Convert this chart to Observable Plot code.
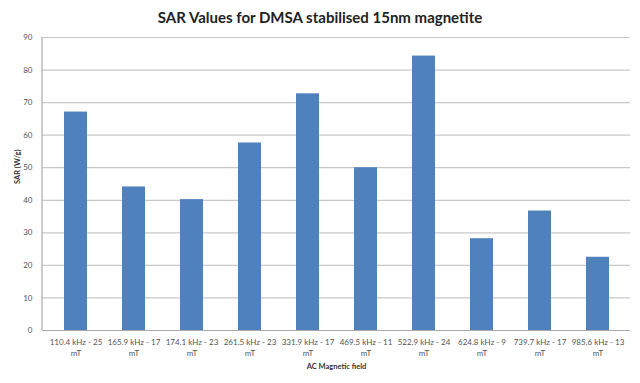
<!DOCTYPE html>
<html><head><meta charset="utf-8">
<script src="https://cdn.jsdelivr.net/npm/d3@7"></script>
<script src="https://cdn.jsdelivr.net/npm/@observablehq/plot@0.6"></script>
<style>
body{margin:0;background:#fff;font-family:Lato,"Open Sans",sans-serif;}
#title{height:30px;line-height:34px;text-align:center;font-weight:bold;font-size:15px;color:#222;}
</style></head>
<body>
<div id="title">SAR Values for DMSA stabilised 15nm magnetite</div>
<div id="chart"></div>
<script>
const categories = ["110.4 kHz - 25 mT","165.9 kHz - 17 mT","174.1 kHz - 23 mT","261.5 kHz - 23 mT","331.9 kHz - 17 mT","469.5 kHz - 11 mT","522.9 kHz - 24 mT","624.8 kHz - 9 mT","739.7 kHz - 17 mT","985.6 kHz - 13 mT"];
const sar = [67.1, 44.1, 40.2, 57.6, 72.7, 50.0, 84.3, 28.2, 36.7, 22.5];
const yTicks = [0,10,20,30,40,50,60,70,80,90];
const data = categories.map((c,i)=>({c, v: sar[i]}));
const chart = Plot.plot({
  width: 640, height: 353,
  marginTop: 7, marginBottom: 53, marginLeft: 42, marginRight: 10,
  style: {fontFamily: "Lato, 'Open Sans', sans-serif", fontSize: "8px", color: "#555"},
  x: {domain: categories, paddingInner: 0.61, paddingOuter: 0.305, label: null},
  y: {domain: [0, 90], label: null},
  marks: [
    Plot.gridY(yTicks, {stroke: "#c8c8c8", strokeOpacity: 1, strokeWidth: 1.2}),
    Plot.barY(data, {x: "c", y: "v", fill: "#4f81bd"}),
    Plot.ruleY([0], {stroke: "#aaa", strokeWidth: 1.2}),
    Plot.axisY(yTicks, {tickSize: 0, tickPadding: 10, fill: "#555", fontSize: 8, label: null}),
    Plot.axisX({tickSize: 0, tickPadding: 6, fill: "#555", fontSize: 8, lineHeight: 1.45, label: null,
      tickFormat: d => d.replace(" mT", "\nmT")}),
    Plot.text(["SAR (W/g)"], {frameAnchor: "left", dx: -25, rotate: -90, fontWeight: "bold", fontSize: 7.5, fill: "#333"}),
    Plot.text(["AC Magnetic field"], {frameAnchor: "bottom", dy: 38, fontWeight: "bold", fontSize: 7.5, fill: "#333"})
  ]
});
// left axis line, positioned from the y scale
const ys = chart.scale("y");
d3.select(chart).append("line")
  .attr("x1", 42).attr("x2", 42)
  .attr("y1", ys.apply(90)).attr("y2", ys.apply(0))
  .attr("stroke", "#aaa").attr("stroke-width", 1.2);
document.getElementById("chart").appendChild(chart);
</script>
</body></html>
